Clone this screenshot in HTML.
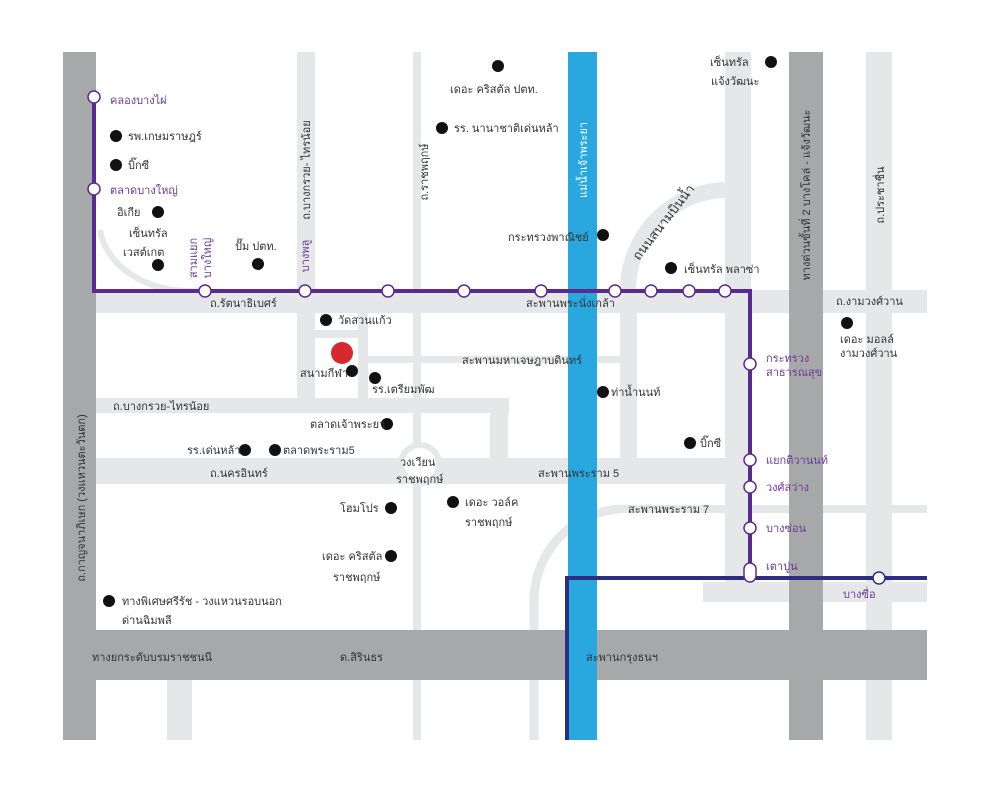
<!DOCTYPE html>
<html><head><meta charset="utf-8"><style>
html,body{margin:0;padding:0;background:#fff}
svg text{font-family:"Liberation Sans","DejaVu Sans","Noto Sans CJK SC",sans-serif;font-size:11px;fill:#333}
.p{fill:#6a3a9a}
.w{fill:#fff}
</style></head><body>
<svg width="1000" height="793" viewBox="0 0 1000 793" xmlns="http://www.w3.org/2000/svg">
<rect width="1000" height="793" fill="#fff"/>
<g fill="#e6e7e8">
<rect x="297" y="52" width="18" height="346"/>
<rect x="413" y="52" width="8" height="688"/>
<rect x="96" y="290" width="831" height="23"/>
<rect x="96" y="398" width="413" height="15"/>
<rect x="358" y="313" width="10" height="85"/>
<rect x="313" y="330" width="55" height="8"/>
<rect x="368" y="356" width="252" height="7"/>
<rect x="490" y="398" width="18" height="60"/>
<rect x="620" y="313" width="17" height="145"/>
<rect x="96" y="458" width="654" height="26"/>
<rect x="725" y="52" width="26" height="550"/>
<rect x="866" y="52" width="26" height="688"/>
<rect x="620" y="505" width="307" height="8"/>
<rect x="703" y="582" width="224" height="20"/>
<rect x="167" y="680" width="25" height="60"/>
</g>
<g fill="none" stroke="#e6e7e8">
<path d="M628 290 A100 100 0 0 1 725 190" stroke-width="16"/>
<path d="M534 740 L534 600 A92 92 0 0 1 620 509" stroke-width="9"/>
<path d="M100 230 A90 70 0 0 0 205 290" stroke-width="6"/>
<circle cx="420" cy="464" r="19" stroke-width="6" fill="#fff"/>
</g>
<g fill="#a7a8aa">
<rect x="63" y="52" width="33" height="688"/>
<rect x="63" y="630" width="864" height="50"/>
<rect x="789" y="52" width="34" height="688"/>
</g>
<rect x="568" y="52" width="29" height="688" fill="#29a8e0"/>
<g fill="none" stroke-width="4">
<path d="M94 97 V291 H750 V572" stroke="#5b2a8e"/>
<path d="M567 740 V578 H927" stroke="#2b2e83"/>
</g>
<g fill="#fff" stroke="#5b2a8e" stroke-width="1.5">
<circle cx="94" cy="97" r="6"/><circle cx="94" cy="189" r="6"/>
<circle cx="205" cy="291" r="6"/><circle cx="305" cy="291" r="6"/><circle cx="388" cy="291" r="6"/><circle cx="464" cy="291" r="6"/><circle cx="541" cy="291" r="6"/><circle cx="615" cy="291" r="6"/><circle cx="651" cy="291" r="6"/><circle cx="689" cy="291" r="6"/><circle cx="725" cy="291" r="6"/>
<circle cx="750" cy="364" r="6"/><circle cx="750" cy="460" r="6"/><circle cx="750" cy="487" r="6"/><circle cx="750" cy="528" r="6"/>
<rect x="744" y="563" width="12" height="19" rx="6"/>
<circle cx="879" cy="578" r="6" stroke="#2b2e83"/>
</g>
<g fill="#111">
<circle cx="498" cy="66" r="6"/><circle cx="442" cy="128" r="6"/><circle cx="116" cy="136" r="6"/><circle cx="116" cy="165" r="6"/><circle cx="158" cy="212" r="6"/><circle cx="158" cy="265" r="6"/><circle cx="258" cy="264" r="6"/><circle cx="603" cy="235" r="6"/><circle cx="771" cy="62" r="6"/><circle cx="671" cy="268" r="6"/><circle cx="847" cy="323" r="6"/><circle cx="326" cy="320" r="6"/><circle cx="352" cy="371" r="6"/><circle cx="375" cy="378" r="6"/><circle cx="603" cy="392" r="6"/><circle cx="387" cy="424" r="6"/><circle cx="245" cy="450" r="6"/><circle cx="275" cy="450" r="6"/><circle cx="690" cy="443" r="6"/><circle cx="391" cy="508" r="6"/><circle cx="453" cy="502" r="6"/><circle cx="391" cy="556" r="6"/><circle cx="109" cy="601" r="6"/>
</g>
<circle cx="342" cy="353" r="11" fill="#d7282f"/>
<g>
<text x="110" y="104" class="p">คลองบางไผ่</text>
<text x="128" y="140">รพ.เกษมราษฎร์</text>
<text x="128" y="169">บิ๊กซี</text>
<text x="110" y="194" class="p">ตลาดบางใหญ่</text>
<text x="117" y="216">อิเกีย</text>
<text x="129" y="237">เซ็นทรัล</text>
<text x="123" y="256">เวสต์เกต</text>
<text x="235" y="250">ปั๊ม ปตท.</text>
<text x="450" y="93">เดอะ คริสตัล ปตท.</text>
<text x="454" y="132">รร. นานาชาติเด่นหล้า</text>
<text x="508" y="241">กระทรวงพาณิชย์</text>
<text x="710" y="66">เซ็นทรัล</text>
<text x="711" y="85">แจ้งวัฒนะ</text>
<text x="684" y="273">เซ็นทรัล พลาซ่า</text>
<text x="210" y="307">ถ.รัตนาธิเบศร์</text>
<text x="526" y="307">สะพานพระนั่งเกล้า</text>
<text x="836" y="305">ถ.งามวงศ์วาน</text>
<text x="840" y="343">เดอะ มอลล์</text>
<text x="840" y="357">งามวงศ์วาน</text>
<text x="766" y="362" class="p">กระทรวง</text>
<text x="766" y="376" class="p">สาธารณสุข</text>
<text x="338" y="324">วัดสวนแก้ว</text>
<text x="300" y="377">สนามกีฬา</text>
<text x="372" y="393">รร.เตรียมพัฒ</text>
<text x="462" y="364">สะพานมหาเจษฎาบดินทร์</text>
<text x="611" y="396">ท่าน้ำนนท์</text>
<text x="113" y="410">ถ.บางกรวย-ไทรน้อย</text>
<text x="310" y="428">ตลาดเจ้าพระยา</text>
<text x="187" y="454">รร.เด่นหล้า</text>
<text x="283" y="454">ตลาดพระราม5</text>
<text x="400" y="466">วงเวียน</text>
<text x="396" y="483">ราชพฤกษ์</text>
<text x="210" y="477">ถ.นครอินทร์</text>
<text x="538" y="477">สะพานพระราม 5</text>
<text x="700" y="447">บิ๊กซี</text>
<text x="766" y="464" class="p">แยกติวานนท์</text>
<text x="766" y="491" class="p">วงศ์สว่าง</text>
<text x="766" y="532" class="p">บางซ่อน</text>
<text x="766" y="570" class="p">เตาปูน</text>
<text x="843" y="598" class="p">บางซื่อ</text>
<text x="628" y="513">สะพานพระราม 7</text>
<text x="340" y="512">โฮมโปร</text>
<text x="465" y="506">เดอะ วอล์ค</text>
<text x="465" y="526">ราชพฤกษ์</text>
<text x="322" y="560">เดอะ คริสตัล</text>
<text x="333" y="581">ราชพฤกษ์</text>
<text x="122" y="605">ทางพิเศษศรีรัช - วงแหวนรอบนอก</text>
<text x="122" y="624">ด่านฉิมพลี</text>
<text x="92" y="661">ทางยกระดับบรมราชชนนี</text>
<text x="340" y="661">ด.สิรินธร</text>
<text x="586" y="661">สะพานกรุงธนฯ</text>
</g>
<g>
<text transform="translate(310,170) rotate(-90)" text-anchor="middle">ถ.บางกรวย- ไทรน้อย</text>
<text transform="translate(428,172) rotate(-90)" text-anchor="middle">ถ.ราชพฤกษ์</text>
<text transform="translate(587,160) rotate(-90)" text-anchor="middle" class="w">แม่น้ำเจ้าพระยา</text>
<text transform="translate(810,195) rotate(-90)" text-anchor="middle">ทางด่วนขั้นที่ 2 บางโคล่ - แจ้งวัฒนะ</text>
<text transform="translate(884,195) rotate(-90)" text-anchor="middle">ถ.ประชาชื่น</text>
<text transform="translate(85,498) rotate(-90)" text-anchor="middle">ถ.กาญจนาภิเษก (วงแหวนตะวันตก)</text>
<text transform="translate(309,256) rotate(-90)" text-anchor="middle" class="p">บางพลู</text>
<text transform="translate(197,258) rotate(-90)" text-anchor="middle" class="p">สามแยก</text>
<text transform="translate(211,258) rotate(-90)" text-anchor="middle" class="p">บางใหญ่</text>
<text transform="translate(667,225) rotate(-52)" text-anchor="middle" style="font-size:13px">ถนนสนามบินน้ำ</text>
</g>
</svg>
</body></html>
